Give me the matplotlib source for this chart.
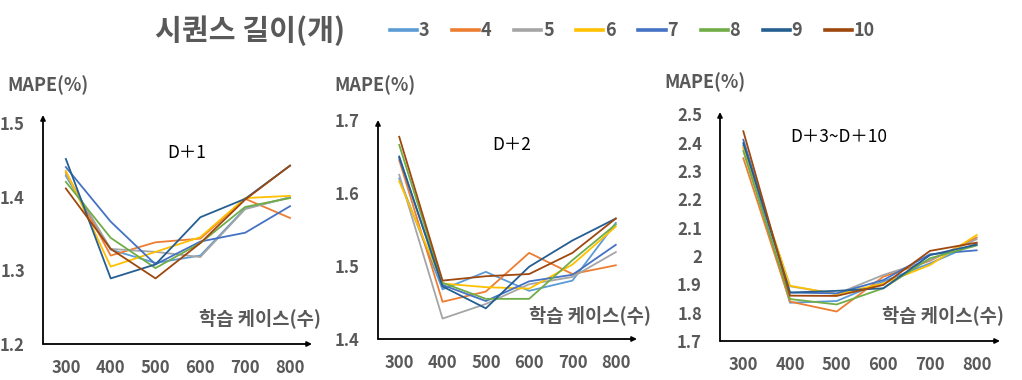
import matplotlib
matplotlib.use("Agg")
import matplotlib.pyplot as plt
from matplotlib.lines import Line2D

plt.rcParams['font.family'] = ['Noto Sans CJK KR', 'DejaVu Sans']

x_cases = [300, 400, 500, 600, 700, 800]
seq_lengths = ['3', '4', '5', '6', '7', '8', '9', '10']
colors = ['#5B9BD5', '#ED7D31', '#A5A5A5', '#FFC000', '#4472C4', '#70AD47', '#255E91', '#9E480E']

# D+1
d1_s3 = [1.428, 1.328, 1.310, 1.320, 1.384, 1.399]
d1_s4 = [1.433, 1.320, 1.338, 1.343, 1.397, 1.371]
d1_s5 = [1.430, 1.329, 1.325, 1.318, 1.383, 1.399]
d1_s6 = [1.435, 1.305, 1.325, 1.345, 1.398, 1.401]
d1_s7 = [1.440, 1.366, 1.308, 1.339, 1.351, 1.387]
d1_s8 = [1.420, 1.344, 1.303, 1.337, 1.386, 1.398]
d1_s9 = [1.451, 1.289, 1.308, 1.372, 1.397, 1.442]
d1_s10 = [1.411, 1.329, 1.289, 1.337, 1.396, 1.442]

# D+2
d2_s3 = [1.620, 1.468, 1.492, 1.466, 1.480, 1.559]
d2_s4 = [1.645, 1.451, 1.465, 1.518, 1.489, 1.501]
d2_s5 = [1.625, 1.428, 1.448, 1.475, 1.485, 1.519]
d2_s6 = [1.616, 1.476, 1.471, 1.469, 1.502, 1.554]
d2_s7 = [1.648, 1.474, 1.452, 1.479, 1.488, 1.529]
d2_s8 = [1.666, 1.477, 1.455, 1.455, 1.508, 1.557]
d2_s9 = [1.650, 1.472, 1.442, 1.499, 1.535, 1.565]
d2_s10 = [1.677, 1.480, 1.486, 1.489, 1.518, 1.565]

# D+3 ~ D+10
d3_s3 = [2.390, 1.835, 1.841, 1.910, 1.974, 2.045]
d3_s4 = [2.345, 1.839, 1.804, 1.927, 1.983, 2.065]
d3_s5 = [2.380, 1.893, 1.866, 1.933, 1.986, 2.059]
d3_s6 = [2.385, 1.895, 1.865, 1.903, 1.968, 2.074]
d3_s7 = [2.410, 1.871, 1.868, 1.915, 2.006, 2.020]
d3_s8 = [2.370, 1.848, 1.829, 1.886, 1.992, 2.037]
d3_s9 = [2.398, 1.871, 1.877, 1.886, 2.003, 2.040]
d3_s10 = [2.440, 1.860, 1.859, 1.898, 2.018, 2.047]

panels = [
    dict(series=[d1_s3, d1_s4, d1_s5, d1_s6, d1_s7, d1_s8, d1_s9, d1_s10],
         yticks=[1.2, 1.3, 1.4, 1.5], yticklabels=['1.2', '1.3', '1.4', '1.5'],
         title='D＋1'),
    dict(series=[d2_s3, d2_s4, d2_s5, d2_s6, d2_s7, d2_s8, d2_s9, d2_s10],
         yticks=[1.4, 1.5, 1.6, 1.7], yticklabels=['1.4', '1.5', '1.6', '1.7'],
         title='D＋2'),
    dict(series=[d3_s3, d3_s4, d3_s5, d3_s6, d3_s7, d3_s8, d3_s9, d3_s10],
         yticks=[1.7, 1.8, 1.9, 2.0, 2.1, 2.2, 2.3, 2.4, 2.5],
         yticklabels=['1.7', '1.8', '1.9', '2', '2.1', '2.2', '2.3', '2.4', '2.5'],
         title='D＋3~D＋10'),
]

W, H = 1022, 380
fig = plt.figure(figsize=(W / 100, H / 100), dpi=100)

def rect(l, r, b, t):
    return [l / W, 1 - b / H, (r - l) / W, (b - t) / H]

def fx(px):
    return px / W

def fy(py):
    return 1 - py / H

layout = [
    dict(rect=rect(43, 312, 344, 115), xlim=(249, 849), ylim=(1.2, 1.5107),
         mape=(7, 85), title_xy=(187, 153), xl=(199, 318)),
    dict(rect=rect(378, 637, 339, 120), xlim=(251, 849), ylim=(1.4, 1.699),
         mape=(334, 85), title_xy=(512, 145), xl=(529, 315)),
    dict(rect=rect(720, 1000, 341, 112), xlim=(250, 850), ylim=(1.7, 2.508),
         mape=(664, 82), title_xy=(839, 137), xl=(882, 315)),
]

gray = '#595959'
for p, lay in zip(panels, layout):
    ax = fig.add_axes(lay['rect'])
    for s, c in zip(p['series'], colors):
        ax.plot(x_cases, s, color=c, lw=1.3)
    ax.set_xlim(*lay['xlim'])
    ax.set_ylim(*lay['ylim'])
    for sp in ax.spines.values():
        sp.set_visible(False)
    ax.set_xticks(x_cases)
    ax.set_xticklabels([str(v) for v in x_cases])
    ax.set_yticks(p['yticks'])
    ax.set_yticklabels(p['yticklabels'])
    ax.tick_params(axis='x', length=0, pad=11, labelsize=12, labelcolor=gray)
    ax.tick_params(axis='y', length=0, pad=13, labelsize=12, labelcolor=gray)
    for lab in ax.get_xticklabels() + ax.get_yticklabels():
        lab.set_fontweight('bold')
    ax.annotate('', xy=(0, 1), xytext=(0, 0), xycoords='axes fraction',
                arrowprops=dict(arrowstyle='-|>', color='black', lw=1.3,
                                mutation_scale=7, shrinkA=0, shrinkB=0))
    ax.annotate('', xy=(1, 0), xytext=(0, 0), xycoords='axes fraction',
                arrowprops=dict(arrowstyle='-|>', color='black', lw=1.3,
                                mutation_scale=7, shrinkA=0, shrinkB=0))
    fig.text(fx(lay['mape'][0]), fy(lay['mape'][1]), 'MAPE(%)', fontsize=13,
             fontweight='bold', color=gray, ha='left', va='center')
    fig.text(fx(lay['title_xy'][0]), fy(lay['title_xy'][1]), p['title'],
             fontsize=12.5, color='black', ha='center', va='center')
    fig.text(fx(lay['xl'][0]), fy(lay['xl'][1]), '학습 케이스(수)', fontsize=13.5,
             fontweight='bold', color=gray, ha='left', va='center')

# legend
fig.text(fx(155), fy(31), '시퀀스 길이(개)', fontsize=21, fontweight='bold',
         color=gray, ha='left', va='center')
handles = [Line2D([0], [0], color=c, lw=2.6) for c in colors]
leg = fig.legend(handles, seq_lengths, loc='center left',
                 bbox_to_anchor=(fx(390), fy(31)), ncol=8, frameon=False,
                 handlelength=1.5, handletextpad=0.1, columnspacing=1.25,
                 prop=dict(size=13, weight='bold'), borderaxespad=0, borderpad=0)
for t in leg.get_texts():
    t.set_color(gray)

fig.savefig('out.png', dpi=100)
